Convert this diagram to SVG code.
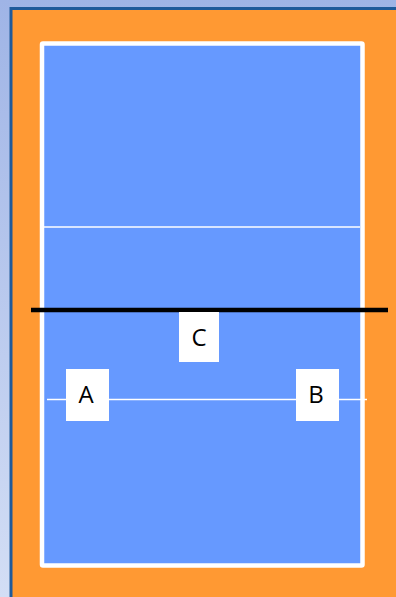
<svg xmlns="http://www.w3.org/2000/svg" width="396" height="597" viewBox="0 0 396 597">
<defs>
<linearGradient id="bg" x1="0" y1="0" x2="0" y2="1">
<stop offset="0" stop-color="#9fb4e6"/>
<stop offset="1" stop-color="#d3def5"/>
</linearGradient>
<style>
.box{fill:#ffffff}
.lbl{font-family:"Open Sans","Liberation Sans",sans-serif;font-size:24px;fill:#000;text-anchor:middle}
.wl{stroke:#ffffff;fill:none}
</style>
</defs>
<rect x="0" y="0" width="396" height="597" fill="url(#bg)"/>
<rect x="11" y="8.5" width="390" height="600" fill="#ff9933" stroke="#1f5a9a" stroke-width="3"/>
<g id="court">
<rect x="42" y="43.5" width="320.5" height="522" fill="#6699ff" stroke="#ffffff" stroke-width="4.5" rx="1"/>
<line class="wl" x1="44" y1="227" x2="360" y2="227" stroke-width="1.5"/>
<line class="wl" x1="47" y1="399.5" x2="367" y2="399.5" stroke-width="1.5"/>
</g>
<g id="net">
<line x1="31" y1="310" x2="388" y2="310" stroke="#000" stroke-width="4.5"/>
</g>
<g id="C">
<rect class="box" x="179" y="312" width="40" height="50"/>
<text class="lbl" x="199" y="346">C</text>
</g>
<g id="A">
<rect class="box" x="66" y="369" width="43" height="52"/>
<text class="lbl" x="86" y="403">A</text>
</g>
<g id="B">
<rect class="box" x="296" y="369" width="43" height="52"/>
<text class="lbl" x="316" y="403">B</text>
</g>
</svg>
